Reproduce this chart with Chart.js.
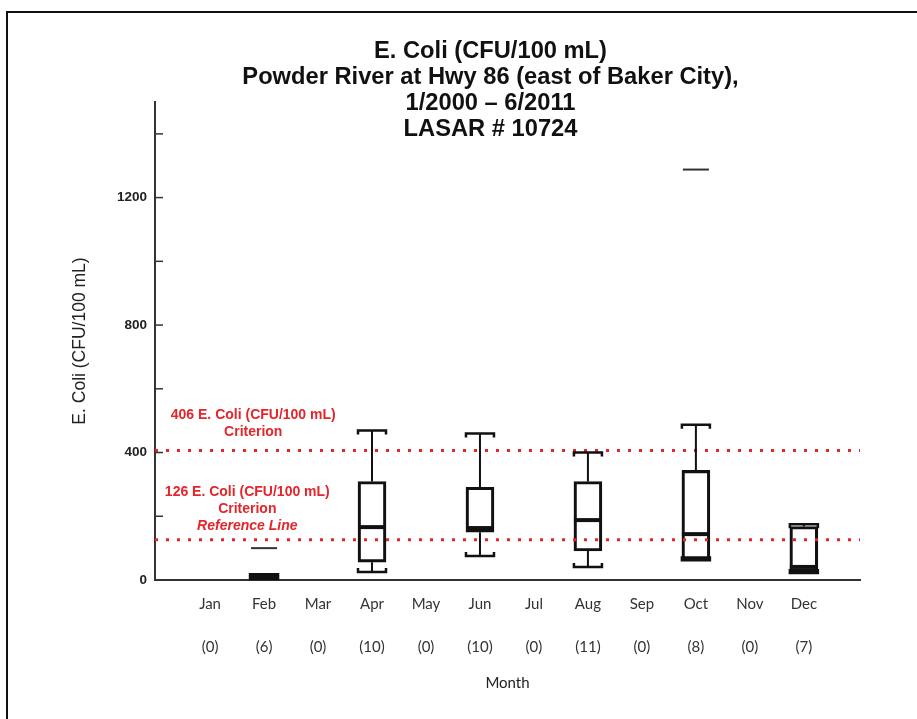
<!DOCTYPE html>
<html>
<head>
<meta charset="utf-8">
<script src="https://cdn.jsdelivr.net/npm/chart.js@4.4.0/dist/chart.umd.min.js"></script>
<style>
  body { margin: 0; background: #fff; }
  #wrap { position: absolute; left: 0; top: 0; width: 917px; height: 719px; }
  #frame { position: absolute; left: 6px; top: 11px; width: 911px; height: 708px;
           border-left: 2px solid #111; border-top: 2px solid #111; pointer-events: none; }
</style>
</head>
<body>
<div id="wrap"><canvas id="graph"></canvas></div>
<div id="frame"></div>
<script>
// data
const months = ['Jan', 'Feb', 'Mar', 'Apr', 'May', 'Jun', 'Jul', 'Aug', 'Sep', 'Oct', 'Nov', 'Dec'];
const counts = [0, 6, 0, 10, 0, 10, 0, 11, 0, 8, 0, 7];
const whiskerLow  = [null, 3, null, 25, null, 75, null, 41, null, 62, null, 22];
const q1          = [null, 4, null, 56, null, 150, null, 91, null, 66, null, 26];
const median      = [null, 10, null, 166, null, 163, null, 188, null, 144, null, 41];
const q3          = [null, 16, null, 309, null, 291, null, 309, null, 344, null, 168];
const whiskerHigh = [null, 18, null, 469, null, 460, null, 400, null, 487, null, 175];
const outliers    = [[], [100], [], [], [], [], [], [], [], [1288], [], []];
const criteria = [406, 126];
const yTicksMajor = [0, 400, 800, 1200];

const titleLines = ['E. Coli (CFU/100 mL)', 'Powder River at Hwy 86 (east of Baker City),', '1/2000 \u2013 6/2011', 'LASAR # 10724'];

// text placed next to the criterion lines (offsets are px above the line)
const notes = [
  { value: 406, x: 0.8, lines: [['406 E. Coli (CFU/100 mL)', 35, ''], ['Criterion', 18, '']] },
  { value: 126, x: 0.69, lines: [['126 E. Coli (CFU/100 mL)', 48, ''], ['Criterion', 31, ''], ['Reference Line', 14, 'italic ']] }
];

const RED = '#e3262b';
const X_MIN = -1.02, X_MAX = 12.04;
const BOX_W = 28;

const boxData = [];
months.forEach((m, i) => { if (q1[i] !== null) boxData.push({ x: i, y: [q1[i], q3[i]] }); });

const boxPlotPlugin = {
  id: 'boxplot',
  afterDatasetsDraw(chart) {
    const ctx = chart.ctx;
    const xs = chart.scales.x, ys = chart.scales.y;
    ctx.save();
    ctx.strokeStyle = '#111';
    ctx.lineCap = 'butt';
    for (let i = 0; i < months.length; i++) {
      const cx = xs.getPixelForValue(i);
      const l = cx - BOX_W / 2, r = cx + BOX_W / 2;
      if (q1[i] !== null) {
        const pHi = ys.getPixelForValue(whiskerHigh[i]);
        const pLo = ys.getPixelForValue(whiskerLow[i]);
        const pQ3 = ys.getPixelForValue(q3[i]);
        const pQ1 = ys.getPixelForValue(q1[i]);
        const pMed = ys.getPixelForValue(median[i]);
        // whiskers
        ctx.lineWidth = 2;
        ctx.beginPath();
        ctx.moveTo(cx, pQ3); ctx.lineTo(cx, pHi);
        ctx.moveTo(cx, pQ1); ctx.lineTo(cx, pLo);
        ctx.stroke();
        // caps with small end hooks
        ctx.lineWidth = 2.5;
        ctx.beginPath();
        ctx.moveTo(l, pHi + 4); ctx.lineTo(l, pHi); ctx.lineTo(r, pHi); ctx.lineTo(r, pHi + 4);
        ctx.moveTo(l, pLo - 4); ctx.lineTo(l, pLo); ctx.lineTo(r, pLo); ctx.lineTo(r, pLo - 4);
        ctx.stroke();
        // median
        ctx.lineWidth = 4;
        ctx.beginPath();
        ctx.moveTo(l, pMed); ctx.lineTo(r, pMed);
        ctx.stroke();
      }
      ctx.lineWidth = 2;
      ctx.strokeStyle = '#333';
      outliers[i].forEach(v => {
        const p = ys.getPixelForValue(v);
        ctx.beginPath();
        ctx.moveTo(l + 1, p); ctx.lineTo(r - 1, p);
        ctx.stroke();
      });
      ctx.strokeStyle = '#111';
    }
    ctx.restore();
  },
  afterDraw(chart) {
    const ctx = chart.ctx;
    const xs = chart.scales.x, ys = chart.scales.y;
    ctx.save();
    // inward tick marks on the y axis
    ctx.strokeStyle = '#333';
    ctx.lineWidth = 1.5;
    const x0 = chart.chartArea.left;
    ys.ticks.forEach(t => {
      if (t.value > 0 && t.value % 200 === 0) {
        const p = ys.getPixelForValue(t.value);
        ctx.beginPath();
        ctx.moveTo(x0, p); ctx.lineTo(x0 + 8, p);
        ctx.stroke();
      }
    });
    // criterion notes
    ctx.fillStyle = RED;
    ctx.textAlign = 'center';
    ctx.textBaseline = 'middle';
    notes.forEach(n => {
      const px = xs.getPixelForValue(n.x);
      const py = ys.getPixelForValue(n.value);
      n.lines.forEach(([txt, off, style]) => {
        ctx.font = style + 'bold 14px "Liberation Sans", Arial, sans-serif';
        ctx.fillText(txt, px, py - off);
      });
    });
    ctx.restore();
  }
};

const refDatasets = criteria.map(v => ({
  type: 'line',
  data: [{ x: X_MIN, y: v }, { x: X_MAX, y: v }],
  borderColor: RED,
  borderWidth: 3,
  borderDash: [3, 8],
  pointRadius: 0,
  order: 0
}));

new Chart(document.getElementById('graph').getContext('2d'), {
  type: 'bar',
  data: {
    datasets: [{
      type: 'bar',
      data: boxData,
      backgroundColor: 'rgba(255,255,255,0)',
      borderColor: '#111',
      borderWidth: 2.5,
      borderSkipped: false,
      barThickness: BOX_W,
      order: 1
    }].concat(refDatasets)
  },
  options: {
    responsive: true,
    maintainAspectRatio: false,
    animation: false,
    layout: { padding: { left: 64, right: 0, top: 0, bottom: 0 } },
    plugins: {
      legend: { display: false },
      tooltip: { enabled: false },
      title: {
        display: true,
        text: titleLines,
        color: '#111',
        font: { family: '"Liberation Sans", Arial, sans-serif', size: 23.7, weight: 'bold', lineHeight: 26 / 23.7 },
        padding: { top: 38, bottom: -40 }
      }
    },
    scales: {
      x: {
        type: 'linear',
        offset: false,
        min: X_MIN,
        max: X_MAX,
        grid: { display: false, drawTicks: false },
        border: { display: true, color: '#333', width: 2 },
        afterBuildTicks(scale) { scale.ticks = months.map((m, i) => ({ value: i })); },
        afterFit(scale) { scale.height = 139; },
        ticks: {
          autoSkip: false,
          maxRotation: 0,
          padding: 3,
          color: '#333',
          font: { family: 'Lato, "Open Sans", sans-serif', size: 15, lineHeight: 43 / 15 },
          callback: (v, i) => [months[i], '(' + counts[i] + ')']
        },
        title: {
          display: true,
          text: 'Month',
          color: '#222',
          font: { family: 'Lato, "Open Sans", sans-serif', size: 15 },
          padding: { top: 0, bottom: 27 }
        }
      },
      y: {
        min: 0,
        max: 1500,
        grid: { display: false, drawTicks: false },
        border: { display: true, color: '#333', width: 2 },
        afterFit(scale) { scale.width = 91; },
        ticks: {
          stepSize: 200,
          padding: 8,
          color: '#222',
          font: { family: '"Liberation Sans", Arial, sans-serif', size: 13.5, weight: 'bold' },
          callback: v => (yTicksMajor.includes(v) ? v : '')
        },
        title: {
          display: true,
          text: 'E. Coli (CFU/100 mL)',
          color: '#222',
          font: { family: '"Liberation Sans", Arial, sans-serif', size: 17.5 },
          padding: { top: 6, bottom: 0 }
        }
      },
      yRight: {
        position: 'right',
        display: true,
        min: 0,
        max: 1500,
        grid: { display: false, drawTicks: false },
        border: { display: false },
        ticks: { display: false },
        afterFit(scale) { scale.width = 57; }
      }
    }
  },
  plugins: [boxPlotPlugin]
});
</script>
</body>
</html>
